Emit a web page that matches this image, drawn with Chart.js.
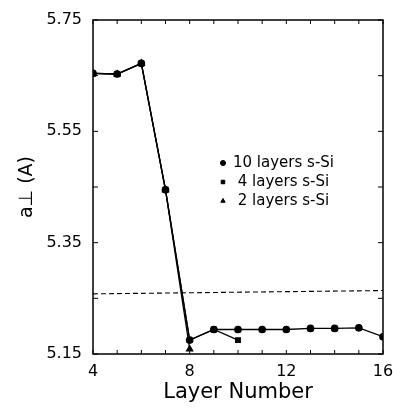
<!DOCTYPE html>
<html><head><meta charset="utf-8">
<script src="https://cdn.jsdelivr.net/npm/chart.js@4"></script>
<style>html,body{margin:0;padding:0;background:#fff}#c{display:block}</style>
</head><body>
<canvas id="c" width="393" height="409"></canvas>
<script>
// ---- data ----
const layers10 = [4,5,6,7,8,9,10,11,12,13,14,15,16];
const values10 = [5.654,5.653,5.672,5.445,5.175,5.194,5.194,5.194,5.194,5.196,5.196,5.197,5.181];
const layers4 = [4,5,6,7,8,9,10];
const values4 = [5.654,5.653,5.672,5.445,5.175,5.194,5.175];
const layers2 = [4,5,6,7,8];
const values2 = [5.654,5.653,5.672,5.445,5.159];
const refLayers = [4,16];
const refValues = [5.258,5.264];
const xTickLabels = [4,8,12,16];
const yTickLabels = [5.15,5.35,5.55,5.75];
const seriesNames = ['10 layers s-Si',' 4 layers s-Si',' 2 layers s-Si'];
const FONT = 'DejaVu Sans';

const pts = (xs, ys) => xs.map((x,i)=>({x, y: ys[i]}));

const framePlugin = {
  id: 'frame',
  afterDraw(chart) {
    const {ctx, chartArea: a, scales: {x, y}} = chart;
    ctx.save();
    ctx.strokeStyle = '#000';
    ctx.lineWidth = 1.5;
    ctx.strokeRect(a.left, a.top, a.right - a.left, a.bottom - a.top);
    ctx.lineWidth = 1;
    ctx.beginPath();
    for (let v = 4; v <= 16; v++) {
      const px = x.getPixelForValue(v);
      ctx.moveTo(px, a.bottom); ctx.lineTo(px, a.bottom - 4);
      ctx.moveTo(px, a.top); ctx.lineTo(px, a.top + 4);
    }
    for (let k = 0; k <= 6; k++) {
      const py = y.getPixelForValue(5.15 + k * 0.1);
      ctx.moveTo(a.left, py); ctx.lineTo(a.left + 5, py);
      ctx.moveTo(a.right, py); ctx.lineTo(a.right - 5, py);
    }
    ctx.stroke();
    // legend
    const styles = ['circle','rect','triangle'];
    const lx = 223, ly0 = 163, dy = 19;
    ctx.fillStyle = '#000';
    ctx.font = '15px "' + FONT + '"';
    ctx.textBaseline = 'middle';
    ctx.textAlign = 'left';
    seriesNames.forEach((name, i) => {
      const yy = ly0 + i * dy;
      Chart.helpers.drawPoint(ctx, {pointStyle: styles[i], radius: 2.5, rotation: 0, borderWidth: 1}, lx, yy);
      ctx.fillStyle = '#000';
      ctx.fill();
      ctx.fillText(name, lx + 10, yy);
    });
    ctx.restore();
  }
};

const base = {borderColor:'#000', backgroundColor:'#000', borderWidth:1.3, pointRadius:3, pointHoverRadius:3, showLine:true, tension:0};

new Chart(document.getElementById('c'), {
  type: 'scatter',
  data: {
    datasets: [
      {...base, label: 'ref', data: pts(refLayers, refValues), pointRadius: 0, borderDash: [5,3], borderWidth: 1.1},
      {...base, label: '10 layers s-Si', data: pts(layers10, values10), pointStyle: 'circle', pointRadius: 3.2},
      {...base, label: '2 layers s-Si', data: pts(layers2, values2), pointStyle: 'triangle', pointRadius: 3.5},
      {...base, label: '4 layers s-Si', data: pts(layers4, values4), pointStyle: 'rect', pointRadius: 3.2}
    ]
  },
  options: {
    responsive: false,
    animation: false,
    devicePixelRatio: 1,
    layout: {padding: {left: 0, top: 20, right: 10, bottom: 0}},
    plugins: {legend: {display: false}, tooltip: {enabled: false}},
    scales: {
      x: {
        type: 'linear', min: 4, max: 16,
        afterBuildTicks: s => { s.ticks = xTickLabels.map(v => ({value: v})); },
        afterFit: s => { s.height = 55; s.paddingRight = 0; s.paddingLeft = 0; },
        ticks: {color: '#000', font: {family: FONT, size: 16}, padding: 8, maxRotation: 0},
        grid: {display: false, drawTicks: false},
        border: {display: false},
        title: {display: true, text: 'Layer Number', color: '#000', font: {family: FONT, size: 21}, padding: {top: 0, bottom: 4}}
      },
      y: {
        type: 'linear', min: 5.15, max: 5.75,
        afterBuildTicks: s => { s.ticks = yTickLabels.map(v => ({value: v})); },
        afterFit: s => { s.width = 93; s.paddingTop = 0; s.paddingBottom = 0; },
        ticks: {color: '#000', font: {family: FONT, size: 16}, padding: 11, callback: v => v.toFixed(2)},
        grid: {display: false, drawTicks: false},
        border: {display: false},
        title: {display: true, text: 'a\u22A5 (A)', color: '#000', font: {family: FONT, size: 19}, padding: {top: 16, bottom: 0}}
      }
    }
  },
  plugins: [framePlugin]
});
</script>
</body></html>
